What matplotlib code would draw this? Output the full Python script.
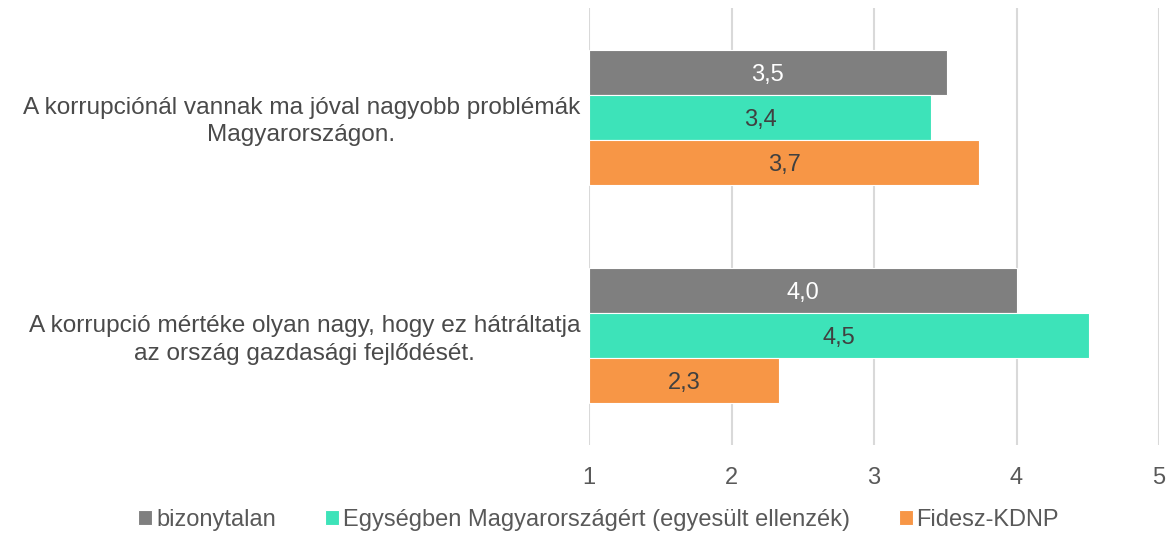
import matplotlib.pyplot as plt
import numpy as np

plt.rcParams['font.family'] = ['Liberation Sans', 'DejaVu Sans']

categories = ["A korrupciónál vannak ma jóval nagyobb problémák\nMagyarországon.",
              "A korrupció mértéke olyan nagy, hogy ez hátráltatja\naz ország gazdasági fejlődését."]
series = ["bizonytalan", "Egységben Magyarországért (egyesült ellenzék)", "Fidesz-KDNP"]
bizonytalan = [3.51, 4.00]
egyseg = [3.40, 4.51]
fidesz = [3.74, 2.33]
values = [bizonytalan, egyseg, fidesz]
colors = ["#7f7f7f", "#3de3b9", "#f79646"]
label_colors = ["white", "#404040", "#404040"]

fig = plt.figure(figsize=(11.69, 5.45), dpi=100)
ax = fig.add_axes([0.504, 0.1835, 0.4874, 0.8015])

y = np.arange(len(categories))
h = 0.206
for i, (vals, c, lc) in enumerate(zip(values, colors, label_colors)):
    pos = y + (i - 1) * h
    widths = np.array(vals) - 1
    ax.barh(pos, widths, left=1, height=h, color=c, edgecolor="white",
            linewidth=0.8, label=series[i], zorder=3)
    for p, v in zip(pos, vals):
        ax.text(1 + (v - 1) / 2, p, f"{v:.1f}".replace(".", ","), ha="center",
                va="center_baseline", fontsize=17, color=lc, zorder=4)

ax.set_xlim(1, 5)
ax.set_ylim(1.5, -0.5)
ax.set_xticks([1, 2, 3, 4, 5])
ax.grid(axis="x", color="#d9d9d9", linewidth=1.5, zorder=0)
for s in ax.spines.values():
    s.set_visible(False)
ax.tick_params(axis="x", length=0, pad=16, labelsize=17, labelcolor="#595959")
ax.set_yticks([])

for yy, cat in zip(y, categories):
    ax.text(-0.016, yy + 0.02, cat, transform=ax.get_yaxis_transform(), ha="right",
            va="center", multialignment="center", fontsize=17.6, color="#4a4a4a",
            linespacing=1.32)

fig.legend(loc="center", bbox_to_anchor=(0.512, 0.046), ncol=3, frameon=False,
           fontsize=17, handlelength=0.6, handleheight=0.6, handletextpad=0.15,
           columnspacing=2.08, labelcolor="#595959")

fig.savefig("out.png", dpi=100)
